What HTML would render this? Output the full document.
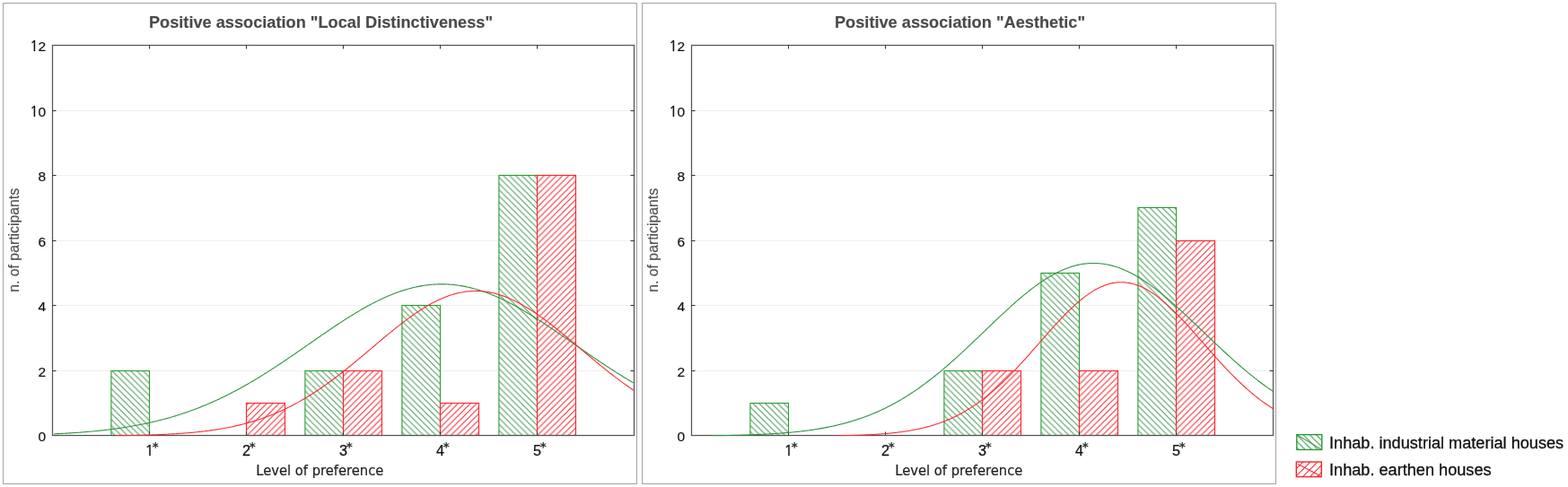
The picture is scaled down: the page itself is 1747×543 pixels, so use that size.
<!DOCTYPE html>
<html><head><meta charset="utf-8"><title>Positive association charts</title>
<style>html,body{margin:0;padding:0;background:#fff;} body{width:1747px;height:543px;position:relative;overflow:hidden;}</style>
</head><body>
<svg width="1747" height="543" viewBox="0 0 1747 543" style="position:absolute;left:0;top:0">
<defs>
<pattern id="hg1" patternUnits="userSpaceOnUse" width="6.88" height="6.88" patternTransform="translate(0.4,0)">
<path d="M-1,-1 L7.88,7.88 M-1,5.88 L1,7.88 M5.88,-1 L7.88,1" stroke="#4f9e5f" stroke-width="1.12" fill="none"/>
</pattern>
<pattern id="hr1" patternUnits="userSpaceOnUse" width="6.88" height="6.88" patternTransform="translate(3.99,0)">
<path d="M-1,7.88 L7.88,-1 M-1,1 L1,-1 M5.88,7.88 L7.88,5.88" stroke="#f5303c" stroke-width="1.12" fill="none"/>
</pattern>
<pattern id="hg2" patternUnits="userSpaceOnUse" width="6.88" height="6.88" patternTransform="translate(712.4,0)">
<path d="M-1,-1 L7.88,7.88 M-1,5.88 L1,7.88 M5.88,-1 L7.88,1" stroke="#4f9e5f" stroke-width="1.12" fill="none"/>
</pattern>
<pattern id="hr2" patternUnits="userSpaceOnUse" width="6.88" height="6.88" patternTransform="translate(715.99,0)">
<path d="M-1,7.88 L7.88,-1 M-1,1 L1,-1 M5.88,7.88 L7.88,5.88" stroke="#f5303c" stroke-width="1.12" fill="none"/>
</pattern>
<pattern id="lg" patternUnits="userSpaceOnUse" width="7.2" height="7.2" patternTransform="translate(1444.5,484.5)">
<path d="M-1,-1 L8.2,8.2 M-1,6.2 L1,8.2 M6.2,-1 L8.2,1" stroke="#4f9e5f" stroke-width="1.12" fill="none"/>
</pattern>
<pattern id="lr" patternUnits="userSpaceOnUse" width="8" height="8" patternTransform="translate(1444,515)">
<path d="M-1,9 L9,-1 M-1,1 L1,-1 M7,9 L9,7" stroke="#f5303c" stroke-width="1.12" fill="none"/>
</pattern>
</defs>
<rect width="1747" height="543" fill="#fff"/>
<rect x="3.5" y="3.5" width="706" height="536" fill="none" stroke="#a4a4a4" stroke-width="1"/>
<text x="357.5" y="30.6" text-anchor="middle" font-family="Liberation Sans, Arial, sans-serif" font-weight="bold" font-size="18.2" fill="#4a4a4a" stroke="#4a4a4a" stroke-width="0.15">Positive association &quot;Local Distinctiveness&quot;</text>
<line x1="58.5" y1="413.5" x2="706.5" y2="413.5" stroke="#efefef" stroke-width="1"/>
<line x1="58.5" y1="340.5" x2="706.5" y2="340.5" stroke="#efefef" stroke-width="1"/>
<line x1="58.5" y1="268.5" x2="706.5" y2="268.5" stroke="#efefef" stroke-width="1"/>
<line x1="58.5" y1="195.5" x2="706.5" y2="195.5" stroke="#efefef" stroke-width="1"/>
<line x1="58.5" y1="123.5" x2="706.5" y2="123.5" stroke="#efefef" stroke-width="1"/>
<text x="51.2" y="491.7" text-anchor="end" font-family="Liberation Sans, Arial, sans-serif" font-size="15.5" fill="#111" stroke="#111" stroke-width="0.2">0</text>
<text x="51.2" y="419.7" text-anchor="end" font-family="Liberation Sans, Arial, sans-serif" font-size="15.5" fill="#111" stroke="#111" stroke-width="0.2">2</text>
<text x="51.2" y="346.7" text-anchor="end" font-family="Liberation Sans, Arial, sans-serif" font-size="15.5" fill="#111" stroke="#111" stroke-width="0.2">4</text>
<text x="51.2" y="274.7" text-anchor="end" font-family="Liberation Sans, Arial, sans-serif" font-size="15.5" fill="#111" stroke="#111" stroke-width="0.2">6</text>
<text x="51.2" y="201.7" text-anchor="end" font-family="Liberation Sans, Arial, sans-serif" font-size="15.5" fill="#111" stroke="#111" stroke-width="0.2">8</text>
<text x="51.2" y="129.7" text-anchor="end" font-family="Liberation Sans, Arial, sans-serif" font-size="15.5" fill="#111" stroke="#111" stroke-width="0.2"><tspan font-family="NanumGothic, Liberation Sans, sans-serif" stroke="#111" stroke-width="0.45">1</tspan>0</text>
<text x="51.2" y="56.7" text-anchor="end" font-family="Liberation Sans, Arial, sans-serif" font-size="15.5" fill="#111" stroke="#111" stroke-width="0.2"><tspan font-family="NanumGothic, Liberation Sans, sans-serif" stroke="#111" stroke-width="0.45">1</tspan>2</text>
<text transform="translate(21,267.8) rotate(-90)" text-anchor="middle" font-family="Liberation Sans, Arial, sans-serif" font-size="15.8" fill="#505050" stroke="#505050" stroke-width="0.15">n. of participants</text>
<rect x="123.9" y="413.5" width="42.599999999999994" height="72.0" fill="#fff"/>
<rect x="123.9" y="413.5" width="42.599999999999994" height="72.0" fill="url(#hg1)" stroke="#2a9c32" stroke-width="1.1"/>
<rect x="274.5" y="449.5" width="43.0" height="36.0" fill="#fff"/>
<rect x="274.5" y="449.5" width="43.0" height="36.0" fill="url(#hr1)" stroke="#ff2228" stroke-width="1.1"/>
<rect x="339.9" y="413.5" width="42.60000000000002" height="72.0" fill="#fff"/>
<rect x="339.9" y="413.5" width="42.60000000000002" height="72.0" fill="url(#hg1)" stroke="#2a9c32" stroke-width="1.1"/>
<rect x="382.5" y="413.5" width="43.0" height="72.0" fill="#fff"/>
<rect x="382.5" y="413.5" width="43.0" height="72.0" fill="url(#hr1)" stroke="#ff2228" stroke-width="1.1"/>
<rect x="447.9" y="340.5" width="42.60000000000002" height="145.0" fill="#fff"/>
<rect x="447.9" y="340.5" width="42.60000000000002" height="145.0" fill="url(#hg1)" stroke="#2a9c32" stroke-width="1.1"/>
<rect x="490.5" y="449.5" width="43.0" height="36.0" fill="#fff"/>
<rect x="490.5" y="449.5" width="43.0" height="36.0" fill="url(#hr1)" stroke="#ff2228" stroke-width="1.1"/>
<rect x="555.9" y="195.5" width="42.60000000000002" height="290.0" fill="#fff"/>
<rect x="555.9" y="195.5" width="42.60000000000002" height="290.0" fill="url(#hg1)" stroke="#2a9c32" stroke-width="1.1"/>
<rect x="598.5" y="195.5" width="43.0" height="290.0" fill="#fff"/>
<rect x="598.5" y="195.5" width="43.0" height="290.0" fill="url(#hr1)" stroke="#ff2228" stroke-width="1.1"/>
<rect x="58.5" y="50.5" width="648.0" height="435.0" fill="none" stroke="#555555" stroke-width="1.25"/>
<line x1="166.5" y1="485.5" x2="166.5" y2="481.5" stroke="#333" stroke-width="1"/>
<line x1="166.5" y1="50.5" x2="166.5" y2="54.5" stroke="#333" stroke-width="1"/>
<line x1="274.5" y1="485.5" x2="274.5" y2="481.5" stroke="#333" stroke-width="1"/>
<line x1="274.5" y1="50.5" x2="274.5" y2="54.5" stroke="#333" stroke-width="1"/>
<line x1="382.5" y1="485.5" x2="382.5" y2="481.5" stroke="#333" stroke-width="1"/>
<line x1="382.5" y1="50.5" x2="382.5" y2="54.5" stroke="#333" stroke-width="1"/>
<line x1="490.5" y1="485.5" x2="490.5" y2="481.5" stroke="#333" stroke-width="1"/>
<line x1="490.5" y1="50.5" x2="490.5" y2="54.5" stroke="#333" stroke-width="1"/>
<line x1="598.5" y1="485.5" x2="598.5" y2="481.5" stroke="#333" stroke-width="1"/>
<line x1="598.5" y1="50.5" x2="598.5" y2="54.5" stroke="#333" stroke-width="1"/>
<line x1="58.5" y1="413.5" x2="62.5" y2="413.5" stroke="#333" stroke-width="1"/>
<line x1="706.5" y1="413.5" x2="702.5" y2="413.5" stroke="#333" stroke-width="1"/>
<line x1="58.5" y1="340.5" x2="62.5" y2="340.5" stroke="#333" stroke-width="1"/>
<line x1="706.5" y1="340.5" x2="702.5" y2="340.5" stroke="#333" stroke-width="1"/>
<line x1="58.5" y1="268.5" x2="62.5" y2="268.5" stroke="#333" stroke-width="1"/>
<line x1="706.5" y1="268.5" x2="702.5" y2="268.5" stroke="#333" stroke-width="1"/>
<line x1="58.5" y1="195.5" x2="62.5" y2="195.5" stroke="#333" stroke-width="1"/>
<line x1="706.5" y1="195.5" x2="702.5" y2="195.5" stroke="#333" stroke-width="1"/>
<line x1="58.5" y1="123.5" x2="62.5" y2="123.5" stroke="#333" stroke-width="1"/>
<line x1="706.5" y1="123.5" x2="702.5" y2="123.5" stroke="#333" stroke-width="1"/>
<clipPath id="cp0"><rect x="58.5" y="51" width="648.0" height="435.2"/></clipPath>
<g clip-path="url(#cp0)">
<polyline points="60.00,483.87 61.35,483.81 62.70,483.74 64.05,483.67 65.40,483.61 66.75,483.54 68.10,483.47 69.45,483.39 70.80,483.32 72.15,483.24 73.50,483.17 74.85,483.09 76.20,483.00 77.55,482.92 78.90,482.84 80.25,482.75 81.60,482.66 82.95,482.57 84.30,482.48 85.65,482.38 87.00,482.28 88.35,482.18 89.70,482.08 91.05,481.98 92.40,481.87 93.75,481.76 95.10,481.65 96.45,481.54 97.80,481.42 99.15,481.31 100.50,481.19 101.85,481.06 103.20,480.94 104.55,480.81 105.90,480.68 107.25,480.55 108.60,480.41 109.95,480.27 111.30,480.13 112.65,479.98 114.00,479.84 115.35,479.68 116.70,479.53 118.05,479.37 119.40,479.21 120.75,479.05 122.10,478.89 123.45,478.72 124.80,478.54 126.15,478.37 127.50,478.19 128.85,478.01 130.20,477.82 131.55,477.63 132.90,477.44 134.25,477.24 135.60,477.04 136.95,476.83 138.30,476.63 139.65,476.41 141.00,476.20 142.35,475.98 143.70,475.75 145.05,475.53 146.40,475.30 147.75,475.06 149.10,474.82 150.45,474.58 151.80,474.33 153.15,474.08 154.50,473.82 155.85,473.56 157.20,473.29 158.55,473.02 159.90,472.75 161.25,472.47 162.60,472.18 163.95,471.89 165.30,471.60 166.65,471.30 168.00,471.00 169.35,470.69 170.70,470.38 172.05,470.06 173.40,469.74 174.75,469.41 176.10,469.08 177.45,468.74 178.80,468.40 180.15,468.05 181.50,467.70 182.85,467.34 184.20,466.97 185.55,466.60 186.90,466.23 188.25,465.85 189.60,465.46 190.95,465.07 192.30,464.67 193.65,464.27 195.00,463.86 196.35,463.45 197.70,463.03 199.05,462.60 200.40,462.17 201.75,461.73 203.10,461.29 204.45,460.84 205.80,460.38 207.15,459.92 208.50,459.46 209.85,458.98 211.20,458.50 212.55,458.02 213.90,457.53 215.25,457.03 216.60,456.53 217.95,456.02 219.30,455.50 220.65,454.98 222.00,454.45 223.35,453.91 224.70,453.37 226.05,452.83 227.40,452.27 228.75,451.71 230.10,451.15 231.45,450.58 232.80,450.00 234.15,449.41 235.50,448.82 236.85,448.22 238.20,447.62 239.55,447.01 240.90,446.39 242.25,445.77 243.60,445.14 244.95,444.50 246.30,443.86 247.65,443.21 249.00,442.56 250.35,441.90 251.70,441.23 253.05,440.56 254.40,439.88 255.75,439.19 257.10,438.50 258.45,437.80 259.80,437.10 261.15,436.39 262.50,435.67 263.85,434.95 265.20,434.23 266.55,433.49 267.90,432.75 269.25,432.01 270.60,431.25 271.95,430.50 273.30,429.73 274.65,428.97 276.00,428.19 277.35,427.41 278.70,426.63 280.05,425.84 281.40,425.04 282.75,424.24 284.10,423.43 285.45,422.62 286.80,421.80 288.15,420.98 289.50,420.16 290.85,419.32 292.20,418.49 293.55,417.65 294.90,416.80 296.25,415.95 297.60,415.10 298.95,414.24 300.30,413.37 301.65,412.50 303.00,411.63 304.35,410.76 305.70,409.88 307.05,408.99 308.40,408.11 309.75,407.22 311.10,406.32 312.45,405.42 313.80,404.52 315.15,403.62 316.50,402.71 317.85,401.80 319.20,400.89 320.55,399.97 321.90,399.06 323.25,398.14 324.60,397.21 325.95,396.29 327.30,395.36 328.65,394.43 330.00,393.50 331.35,392.57 332.70,391.64 334.05,390.70 335.40,389.77 336.75,388.83 338.10,387.89 339.45,386.95 340.80,386.02 342.15,385.08 343.50,384.14 344.85,383.20 346.20,382.26 347.55,381.32 348.90,380.38 350.25,379.44 351.60,378.50 352.95,377.56 354.30,376.63 355.65,375.69 357.00,374.76 358.35,373.83 359.70,372.90 361.05,371.97 362.40,371.04 363.75,370.12 365.10,369.20 366.45,368.28 367.80,367.36 369.15,366.45 370.50,365.54 371.85,364.63 373.20,363.73 374.55,362.82 375.90,361.93 377.25,361.04 378.60,360.15 379.95,359.26 381.30,358.38 382.65,357.51 384.00,356.64 385.35,355.77 386.70,354.91 388.05,354.06 389.40,353.21 390.75,352.37 392.10,351.53 393.45,350.70 394.80,349.87 396.15,349.06 397.50,348.24 398.85,347.44 400.20,346.64 401.55,345.85 402.90,345.07 404.25,344.29 405.60,343.52 406.95,342.76 408.30,342.01 409.65,341.27 411.00,340.53 412.35,339.80 413.70,339.08 415.05,338.37 416.40,337.67 417.75,336.98 419.10,336.30 420.45,335.63 421.80,334.96 423.15,334.31 424.50,333.67 425.85,333.03 427.20,332.41 428.55,331.80 429.90,331.20 431.25,330.60 432.60,330.02 433.95,329.45 435.30,328.90 436.65,328.35 438.00,327.81 439.35,327.29 440.70,326.77 442.05,326.27 443.40,325.78 444.75,325.31 446.10,324.84 447.45,324.39 448.80,323.95 450.15,323.52 451.50,323.10 452.85,322.70 454.20,322.31 455.55,321.93 456.90,321.57 458.25,321.22 459.60,320.88 460.95,320.55 462.30,320.24 463.65,319.94 465.00,319.65 466.35,319.38 467.70,319.12 469.05,318.88 470.40,318.65 471.75,318.43 473.10,318.23 474.45,318.04 475.80,317.86 477.15,317.70 478.50,317.55 479.85,317.42 481.20,317.30 482.55,317.19 483.90,317.10 485.25,317.02 486.60,316.96 487.95,316.91 489.30,316.87 490.65,316.85 492.00,316.84 493.35,316.85 494.70,316.87 496.05,316.91 497.40,316.96 498.75,317.02 500.10,317.10 501.45,317.19 502.80,317.30 504.15,317.42 505.50,317.55 506.85,317.70 508.20,317.86 509.55,318.04 510.90,318.23 512.25,318.43 513.60,318.65 514.95,318.88 516.30,319.12 517.65,319.38 519.00,319.65 520.35,319.94 521.70,320.24 523.05,320.55 524.40,320.88 525.75,321.22 527.10,321.57 528.45,321.93 529.80,322.31 531.15,322.70 532.50,323.10 533.85,323.52 535.20,323.95 536.55,324.39 537.90,324.84 539.25,325.31 540.60,325.78 541.95,326.27 543.30,326.77 544.65,327.29 546.00,327.81 547.35,328.35 548.70,328.90 550.05,329.45 551.40,330.02 552.75,330.60 554.10,331.20 555.45,331.80 556.80,332.41 558.15,333.03 559.50,333.67 560.85,334.31 562.20,334.96 563.55,335.63 564.90,336.30 566.25,336.98 567.60,337.67 568.95,338.37 570.30,339.08 571.65,339.80 573.00,340.53 574.35,341.27 575.70,342.01 577.05,342.76 578.40,343.52 579.75,344.29 581.10,345.07 582.45,345.85 583.80,346.64 585.15,347.44 586.50,348.24 587.85,349.06 589.20,349.87 590.55,350.70 591.90,351.53 593.25,352.37 594.60,353.21 595.95,354.06 597.30,354.91 598.65,355.77 600.00,356.64 601.35,357.51 602.70,358.38 604.05,359.26 605.40,360.15 606.75,361.04 608.10,361.93 609.45,362.82 610.80,363.73 612.15,364.63 613.50,365.54 614.85,366.45 616.20,367.36 617.55,368.28 618.90,369.20 620.25,370.12 621.60,371.04 622.95,371.97 624.30,372.90 625.65,373.83 627.00,374.76 628.35,375.69 629.70,376.63 631.05,377.56 632.40,378.50 633.75,379.44 635.10,380.38 636.45,381.32 637.80,382.26 639.15,383.20 640.50,384.14 641.85,385.08 643.20,386.02 644.55,386.95 645.90,387.89 647.25,388.83 648.60,389.77 649.95,390.70 651.30,391.64 652.65,392.57 654.00,393.50 655.35,394.43 656.70,395.36 658.05,396.29 659.40,397.21 660.75,398.14 662.10,399.06 663.45,399.97 664.80,400.89 666.15,401.80 667.50,402.71 668.85,403.62 670.20,404.52 671.55,405.42 672.90,406.32 674.25,407.22 675.60,408.11 676.95,408.99 678.30,409.88 679.65,410.76 681.00,411.63 682.35,412.50 683.70,413.37 685.05,414.24 686.40,415.10 687.75,415.95 689.10,416.80 690.45,417.65 691.80,418.49 693.15,419.32 694.50,420.16 695.85,420.98 697.20,421.80 698.55,422.62 699.90,423.43 701.25,424.24 702.60,425.04 703.95,425.84 705.30,426.63 706.50,427.41 706.50,428.19" fill="none" stroke="#2e9440" stroke-width="1.1"/>
<polyline points="129.50,485.79 130.85,485.77 132.20,485.75 133.55,485.73 134.90,485.72 136.25,485.70 137.60,485.68 138.95,485.65 140.30,485.63 141.65,485.61 143.00,485.59 144.35,485.56 145.70,485.54 147.05,485.51 148.40,485.48 149.75,485.46 151.10,485.43 152.45,485.40 153.80,485.37 155.15,485.33 156.50,485.30 157.85,485.27 159.20,485.23 160.55,485.20 161.90,485.16 163.25,485.12 164.60,485.08 165.95,485.04 167.30,484.99 168.65,484.95 170.00,484.90 171.35,484.85 172.70,484.80 174.05,484.75 175.40,484.70 176.75,484.65 178.10,484.59 179.45,484.53 180.80,484.47 182.15,484.41 183.50,484.35 184.85,484.28 186.20,484.21 187.55,484.15 188.90,484.07 190.25,484.00 191.60,483.92 192.95,483.84 194.30,483.76 195.65,483.68 197.00,483.59 198.35,483.51 199.70,483.41 201.05,483.32 202.40,483.22 203.75,483.12 205.10,483.02 206.45,482.92 207.80,482.81 209.15,482.70 210.50,482.58 211.85,482.46 213.20,482.34 214.55,482.22 215.90,482.09 217.25,481.96 218.60,481.82 219.95,481.69 221.30,481.54 222.65,481.40 224.00,481.25 225.35,481.09 226.70,480.93 228.05,480.77 229.40,480.60 230.75,480.43 232.10,480.26 233.45,480.08 234.80,479.89 236.15,479.70 237.50,479.51 238.85,479.31 240.20,479.10 241.55,478.90 242.90,478.68 244.25,478.46 245.60,478.24 246.95,478.01 248.30,477.77 249.65,477.53 251.00,477.28 252.35,477.03 253.70,476.77 255.05,476.50 256.40,476.23 257.75,475.96 259.10,475.67 260.45,475.38 261.80,475.09 263.15,474.78 264.50,474.47 265.85,474.16 267.20,473.84 268.55,473.51 269.90,473.17 271.25,472.82 272.60,472.47 273.95,472.11 275.30,471.75 276.65,471.37 278.00,470.99 279.35,470.60 280.70,470.21 282.05,469.80 283.40,469.39 284.75,468.97 286.10,468.54 287.45,468.10 288.80,467.66 290.15,467.20 291.50,466.74 292.85,466.27 294.20,465.79 295.55,465.30 296.90,464.81 298.25,464.30 299.60,463.79 300.95,463.26 302.30,462.73 303.65,462.19 305.00,461.64 306.35,461.08 307.70,460.51 309.05,459.93 310.40,459.34 311.75,458.74 313.10,458.14 314.45,457.52 315.80,456.89 317.15,456.26 318.50,455.61 319.85,454.96 321.20,454.29 322.55,453.62 323.90,452.93 325.25,452.24 326.60,451.53 327.95,450.82 329.30,450.10 330.65,449.36 332.00,448.62 333.35,447.87 334.70,447.11 336.05,446.33 337.40,445.55 338.75,444.76 340.10,443.96 341.45,443.15 342.80,442.33 344.15,441.50 345.50,440.66 346.85,439.81 348.20,438.95 349.55,438.08 350.90,437.20 352.25,436.32 353.60,435.42 354.95,434.52 356.30,433.60 357.65,432.68 359.00,431.75 360.35,430.81 361.70,429.86 363.05,428.90 364.40,427.94 365.75,426.96 367.10,425.98 368.45,424.99 369.80,423.99 371.15,422.99 372.50,421.97 373.85,420.95 375.20,419.93 376.55,418.89 377.90,417.85 379.25,416.80 380.60,415.75 381.95,414.69 383.30,413.62 384.65,412.54 386.00,411.47 387.35,410.38 388.70,409.29 390.05,408.20 391.40,407.10 392.75,405.99 394.10,404.88 395.45,403.77 396.80,402.65 398.15,401.53 399.50,400.41 400.85,399.28 402.20,398.15 403.55,397.02 404.90,395.89 406.25,394.75 407.60,393.61 408.95,392.47 410.30,391.33 411.65,390.19 413.00,389.05 414.35,387.91 415.70,386.76 417.05,385.62 418.40,384.48 419.75,383.34 421.10,382.20 422.45,381.06 423.80,379.93 425.15,378.79 426.50,377.66 427.85,376.54 429.20,375.41 430.55,374.29 431.90,373.17 433.25,372.06 434.60,370.95 435.95,369.85 437.30,368.76 438.65,367.66 440.00,366.58 441.35,365.50 442.70,364.43 444.05,363.36 445.40,362.31 446.75,361.26 448.10,360.21 449.45,359.18 450.80,358.16 452.15,357.14 453.50,356.14 454.85,355.14 456.20,354.16 457.55,353.18 458.90,352.22 460.25,351.27 461.60,350.33 462.95,349.40 464.30,348.49 465.65,347.58 467.00,346.69 468.35,345.82 469.70,344.95 471.05,344.10 472.40,343.27 473.75,342.45 475.10,341.64 476.45,340.85 477.80,340.08 479.15,339.32 480.50,338.58 481.85,337.85 483.20,337.14 484.55,336.45 485.90,335.77 487.25,335.12 488.60,334.48 489.95,333.85 491.30,333.25 492.65,332.66 494.00,332.10 495.35,331.55 496.70,331.02 498.05,330.51 499.40,330.02 500.75,329.55 502.10,329.10 503.45,328.67 504.80,328.26 506.15,327.87 507.50,327.50 508.85,327.15 510.20,326.82 511.55,326.52 512.90,326.23 514.25,325.97 515.60,325.72 516.95,325.50 518.30,325.30 519.65,325.12 521.00,324.97 522.35,324.83 523.70,324.72 525.05,324.63 526.40,324.56 527.75,324.51 529.10,324.48 530.45,324.48 531.80,324.50 533.15,324.54 534.50,324.60 535.85,324.69 537.20,324.79 538.55,324.92 539.90,325.07 541.25,325.24 542.60,325.43 543.95,325.65 545.30,325.88 546.65,326.14 548.00,326.42 549.35,326.72 550.70,327.04 552.05,327.38 553.40,327.74 554.75,328.13 556.10,328.53 557.45,328.95 558.80,329.40 560.15,329.86 561.50,330.34 562.85,330.85 564.20,331.37 565.55,331.91 566.90,332.47 568.25,333.05 569.60,333.65 570.95,334.27 572.30,334.90 573.65,335.55 575.00,336.22 576.35,336.91 577.70,337.61 579.05,338.33 580.40,339.07 581.75,339.82 583.10,340.59 584.45,341.38 585.80,342.18 587.15,342.99 588.50,343.82 589.85,344.67 591.20,345.53 592.55,346.40 593.90,347.28 595.25,348.18 596.60,349.09 597.95,350.02 599.30,350.95 600.65,351.90 602.00,352.86 603.35,353.83 604.70,354.81 606.05,355.81 607.40,356.81 608.75,357.82 610.10,358.84 611.45,359.87 612.80,360.91 614.15,361.95 615.50,363.01 616.85,364.07 618.20,365.14 619.55,366.22 620.90,367.30 622.25,368.39 623.60,369.49 624.95,370.59 626.30,371.69 627.65,372.80 629.00,373.92 630.35,375.04 631.70,376.16 633.05,377.29 634.40,378.42 635.75,379.55 637.10,380.68 638.45,381.82 639.80,382.96 641.15,384.10 642.50,385.24 643.85,386.38 645.20,387.52 646.55,388.67 647.90,389.81 649.25,390.95 650.60,392.09 651.95,393.23 653.30,394.37 654.65,395.51 656.00,396.64 657.35,397.78 658.70,398.91 660.05,400.04 661.40,401.16 662.75,402.28 664.10,403.40 665.45,404.51 666.80,405.62 668.15,406.73 669.50,407.83 670.85,408.93 672.20,410.02 673.55,411.10 674.90,412.19 676.25,413.26 677.60,414.33 678.95,415.39 680.30,416.45 681.65,417.50 683.00,418.54 684.35,419.58 685.70,420.61 687.05,421.63 688.40,422.65 689.75,423.66 691.10,424.66 692.45,425.65 693.80,426.64 695.15,427.61 696.50,428.58 697.85,429.54 699.20,430.49 700.55,431.44 701.90,432.37 703.25,433.30 704.60,434.21 705.95,435.12 706.50,436.02 706.50,436.91 706.50,437.79" fill="none" stroke="#ff2a34" stroke-width="1.1"/>
</g>
<text x="166.5" y="508.2" text-anchor="middle" font-family="Liberation Sans, Arial, sans-serif" font-size="16.2" fill="#111" stroke="#111" stroke-width="0.25"><tspan font-family="NanumGothic, Liberation Sans, sans-serif" stroke="#111" stroke-width="0.45">1</tspan></text>
<text x="173.1" y="503.4" text-anchor="middle" font-family="DejaVu Sans, sans-serif" font-weight="bold" font-size="14.2" fill="#2a2a2a">*</text>
<text x="274.5" y="508.2" text-anchor="middle" font-family="Liberation Sans, Arial, sans-serif" font-size="16.2" fill="#111" stroke="#111" stroke-width="0.25">2</text>
<text x="281.1" y="503.4" text-anchor="middle" font-family="DejaVu Sans, sans-serif" font-weight="bold" font-size="14.2" fill="#2a2a2a">*</text>
<text x="382.5" y="508.2" text-anchor="middle" font-family="Liberation Sans, Arial, sans-serif" font-size="16.2" fill="#111" stroke="#111" stroke-width="0.25">3</text>
<text x="389.1" y="503.4" text-anchor="middle" font-family="DejaVu Sans, sans-serif" font-weight="bold" font-size="14.2" fill="#2a2a2a">*</text>
<text x="490.5" y="508.2" text-anchor="middle" font-family="Liberation Sans, Arial, sans-serif" font-size="16.2" fill="#111" stroke="#111" stroke-width="0.25">4</text>
<text x="497.1" y="503.4" text-anchor="middle" font-family="DejaVu Sans, sans-serif" font-weight="bold" font-size="14.2" fill="#2a2a2a">*</text>
<text x="598.5" y="508.2" text-anchor="middle" font-family="Liberation Sans, Arial, sans-serif" font-size="16.2" fill="#111" stroke="#111" stroke-width="0.25">5</text>
<text x="605.1" y="503.4" text-anchor="middle" font-family="DejaVu Sans, sans-serif" font-weight="bold" font-size="14.2" fill="#2a2a2a">*</text>
<text x="356.3" y="529.8" text-anchor="middle" font-family="DejaVu Sans Condensed, DejaVu Sans, sans-serif" font-size="16.4" fill="#222" stroke="#222" stroke-width="0.2">Level of preference</text>
<rect x="715.5" y="3.5" width="706" height="536" fill="none" stroke="#a4a4a4" stroke-width="1"/>
<text x="1069.5" y="30.6" text-anchor="middle" font-family="Liberation Sans, Arial, sans-serif" font-weight="bold" font-size="18.2" fill="#4a4a4a" stroke="#4a4a4a" stroke-width="0.15">Positive association &quot;Aesthetic&quot;</text>
<line x1="770.5" y1="413.5" x2="1418.5" y2="413.5" stroke="#efefef" stroke-width="1"/>
<line x1="770.5" y1="340.5" x2="1418.5" y2="340.5" stroke="#efefef" stroke-width="1"/>
<line x1="770.5" y1="268.5" x2="1418.5" y2="268.5" stroke="#efefef" stroke-width="1"/>
<line x1="770.5" y1="195.5" x2="1418.5" y2="195.5" stroke="#efefef" stroke-width="1"/>
<line x1="770.5" y1="123.5" x2="1418.5" y2="123.5" stroke="#efefef" stroke-width="1"/>
<text x="763.2" y="491.7" text-anchor="end" font-family="Liberation Sans, Arial, sans-serif" font-size="15.5" fill="#111" stroke="#111" stroke-width="0.2">0</text>
<text x="763.2" y="419.7" text-anchor="end" font-family="Liberation Sans, Arial, sans-serif" font-size="15.5" fill="#111" stroke="#111" stroke-width="0.2">2</text>
<text x="763.2" y="346.7" text-anchor="end" font-family="Liberation Sans, Arial, sans-serif" font-size="15.5" fill="#111" stroke="#111" stroke-width="0.2">4</text>
<text x="763.2" y="274.7" text-anchor="end" font-family="Liberation Sans, Arial, sans-serif" font-size="15.5" fill="#111" stroke="#111" stroke-width="0.2">6</text>
<text x="763.2" y="201.7" text-anchor="end" font-family="Liberation Sans, Arial, sans-serif" font-size="15.5" fill="#111" stroke="#111" stroke-width="0.2">8</text>
<text x="763.2" y="129.7" text-anchor="end" font-family="Liberation Sans, Arial, sans-serif" font-size="15.5" fill="#111" stroke="#111" stroke-width="0.2"><tspan font-family="NanumGothic, Liberation Sans, sans-serif" stroke="#111" stroke-width="0.45">1</tspan>0</text>
<text x="763.2" y="56.7" text-anchor="end" font-family="Liberation Sans, Arial, sans-serif" font-size="15.5" fill="#111" stroke="#111" stroke-width="0.2"><tspan font-family="NanumGothic, Liberation Sans, sans-serif" stroke="#111" stroke-width="0.45">1</tspan>2</text>
<text transform="translate(733,267.8) rotate(-90)" text-anchor="middle" font-family="Liberation Sans, Arial, sans-serif" font-size="15.8" fill="#505050" stroke="#505050" stroke-width="0.15">n. of participants</text>
<rect x="835.9" y="449.5" width="42.60000000000002" height="36.0" fill="#fff"/>
<rect x="835.9" y="449.5" width="42.60000000000002" height="36.0" fill="url(#hg2)" stroke="#2a9c32" stroke-width="1.1"/>
<rect x="1051.9" y="413.5" width="42.59999999999991" height="72.0" fill="#fff"/>
<rect x="1051.9" y="413.5" width="42.59999999999991" height="72.0" fill="url(#hg2)" stroke="#2a9c32" stroke-width="1.1"/>
<rect x="1094.5" y="413.5" width="43.0" height="72.0" fill="#fff"/>
<rect x="1094.5" y="413.5" width="43.0" height="72.0" fill="url(#hr2)" stroke="#ff2228" stroke-width="1.1"/>
<rect x="1159.9" y="304.5" width="42.59999999999991" height="181.0" fill="#fff"/>
<rect x="1159.9" y="304.5" width="42.59999999999991" height="181.0" fill="url(#hg2)" stroke="#2a9c32" stroke-width="1.1"/>
<rect x="1202.5" y="413.5" width="43.0" height="72.0" fill="#fff"/>
<rect x="1202.5" y="413.5" width="43.0" height="72.0" fill="url(#hr2)" stroke="#ff2228" stroke-width="1.1"/>
<rect x="1267.9" y="231.5" width="42.59999999999991" height="254.0" fill="#fff"/>
<rect x="1267.9" y="231.5" width="42.59999999999991" height="254.0" fill="url(#hg2)" stroke="#2a9c32" stroke-width="1.1"/>
<rect x="1310.5" y="268.5" width="43.0" height="217.0" fill="#fff"/>
<rect x="1310.5" y="268.5" width="43.0" height="217.0" fill="url(#hr2)" stroke="#ff2228" stroke-width="1.1"/>
<rect x="770.5" y="50.5" width="648.0" height="435.0" fill="none" stroke="#555555" stroke-width="1.25"/>
<line x1="878.5" y1="485.5" x2="878.5" y2="481.5" stroke="#333" stroke-width="1"/>
<line x1="878.5" y1="50.5" x2="878.5" y2="54.5" stroke="#333" stroke-width="1"/>
<line x1="986.5" y1="485.5" x2="986.5" y2="481.5" stroke="#333" stroke-width="1"/>
<line x1="986.5" y1="50.5" x2="986.5" y2="54.5" stroke="#333" stroke-width="1"/>
<line x1="1094.5" y1="485.5" x2="1094.5" y2="481.5" stroke="#333" stroke-width="1"/>
<line x1="1094.5" y1="50.5" x2="1094.5" y2="54.5" stroke="#333" stroke-width="1"/>
<line x1="1202.5" y1="485.5" x2="1202.5" y2="481.5" stroke="#333" stroke-width="1"/>
<line x1="1202.5" y1="50.5" x2="1202.5" y2="54.5" stroke="#333" stroke-width="1"/>
<line x1="1310.5" y1="485.5" x2="1310.5" y2="481.5" stroke="#333" stroke-width="1"/>
<line x1="1310.5" y1="50.5" x2="1310.5" y2="54.5" stroke="#333" stroke-width="1"/>
<line x1="770.5" y1="413.5" x2="774.5" y2="413.5" stroke="#333" stroke-width="1"/>
<line x1="1418.5" y1="413.5" x2="1414.5" y2="413.5" stroke="#333" stroke-width="1"/>
<line x1="770.5" y1="340.5" x2="774.5" y2="340.5" stroke="#333" stroke-width="1"/>
<line x1="1418.5" y1="340.5" x2="1414.5" y2="340.5" stroke="#333" stroke-width="1"/>
<line x1="770.5" y1="268.5" x2="774.5" y2="268.5" stroke="#333" stroke-width="1"/>
<line x1="1418.5" y1="268.5" x2="1414.5" y2="268.5" stroke="#333" stroke-width="1"/>
<line x1="770.5" y1="195.5" x2="774.5" y2="195.5" stroke="#333" stroke-width="1"/>
<line x1="1418.5" y1="195.5" x2="1414.5" y2="195.5" stroke="#333" stroke-width="1"/>
<line x1="770.5" y1="123.5" x2="774.5" y2="123.5" stroke="#333" stroke-width="1"/>
<line x1="1418.5" y1="123.5" x2="1414.5" y2="123.5" stroke="#333" stroke-width="1"/>
<clipPath id="cp712"><rect x="770.5" y="51" width="648.0" height="435.2"/></clipPath>
<g clip-path="url(#cp712)">
<polyline points="792.25,485.79 793.60,485.77 794.95,485.75 796.30,485.74 797.65,485.72 799.00,485.70 800.35,485.68 801.70,485.66 803.05,485.64 804.40,485.62 805.75,485.59 807.10,485.57 808.45,485.55 809.80,485.52 811.15,485.50 812.50,485.47 813.85,485.44 815.20,485.41 816.55,485.38 817.90,485.35 819.25,485.32 820.60,485.29 821.95,485.26 823.30,485.22 824.65,485.19 826.00,485.15 827.35,485.11 828.70,485.07 830.05,485.03 831.40,484.99 832.75,484.94 834.10,484.90 835.45,484.85 836.80,484.80 838.15,484.76 839.50,484.70 840.85,484.65 842.20,484.60 843.55,484.54 844.90,484.48 846.25,484.42 847.60,484.36 848.95,484.30 850.30,484.23 851.65,484.17 853.00,484.10 854.35,484.03 855.70,483.95 857.05,483.88 858.40,483.80 859.75,483.72 861.10,483.64 862.45,483.55 863.80,483.47 865.15,483.38 866.50,483.28 867.85,483.19 869.20,483.09 870.55,482.99 871.90,482.89 873.25,482.78 874.60,482.67 875.95,482.56 877.30,482.44 878.65,482.32 880.00,482.20 881.35,482.08 882.70,481.95 884.05,481.82 885.40,481.68 886.75,481.54 888.10,481.40 889.45,481.25 890.80,481.10 892.15,480.94 893.50,480.79 894.85,480.62 896.20,480.46 897.55,480.29 898.90,480.11 900.25,479.93 901.60,479.74 902.95,479.56 904.30,479.36 905.65,479.16 907.00,478.96 908.35,478.75 909.70,478.54 911.05,478.32 912.40,478.09 913.75,477.87 915.10,477.63 916.45,477.39 917.80,477.14 919.15,476.89 920.50,476.64 921.85,476.37 923.20,476.10 924.55,475.83 925.90,475.55 927.25,475.26 928.60,474.96 929.95,474.66 931.30,474.36 932.65,474.04 934.00,473.72 935.35,473.39 936.70,473.06 938.05,472.72 939.40,472.37 940.75,472.01 942.10,471.65 943.45,471.28 944.80,470.90 946.15,470.51 947.50,470.12 948.85,469.71 950.20,469.30 951.55,468.89 952.90,468.46 954.25,468.03 955.60,467.58 956.95,467.13 958.30,466.67 959.65,466.20 961.00,465.73 962.35,465.24 963.70,464.75 965.05,464.24 966.40,463.73 967.75,463.21 969.10,462.68 970.45,462.14 971.80,461.59 973.15,461.03 974.50,460.46 975.85,459.88 977.20,459.29 978.55,458.69 979.90,458.08 981.25,457.47 982.60,456.84 983.95,456.20 985.30,455.55 986.65,454.90 988.00,454.23 989.35,453.55 990.70,452.86 992.05,452.16 993.40,451.45 994.75,450.73 996.10,450.00 997.45,449.26 998.80,448.51 1000.15,447.75 1001.50,446.98 1002.85,446.20 1004.20,445.40 1005.55,444.60 1006.90,443.78 1008.25,442.96 1009.60,442.12 1010.95,441.28 1012.30,440.42 1013.65,439.55 1015.00,438.68 1016.35,437.79 1017.70,436.89 1019.05,435.98 1020.40,435.06 1021.75,434.13 1023.10,433.19 1024.45,432.24 1025.80,431.27 1027.15,430.30 1028.50,429.32 1029.85,428.33 1031.20,427.33 1032.55,426.31 1033.90,425.29 1035.25,424.26 1036.60,423.22 1037.95,422.17 1039.30,421.11 1040.65,420.04 1042.00,418.96 1043.35,417.87 1044.70,416.77 1046.05,415.67 1047.40,414.55 1048.75,413.43 1050.10,412.30 1051.45,411.15 1052.80,410.01 1054.15,408.85 1055.50,407.68 1056.85,406.51 1058.20,405.33 1059.55,404.14 1060.90,402.95 1062.25,401.75 1063.60,400.54 1064.95,399.32 1066.30,398.10 1067.65,396.88 1069.00,395.64 1070.35,394.40 1071.70,393.16 1073.05,391.91 1074.40,390.65 1075.75,389.40 1077.10,388.13 1078.45,386.86 1079.80,385.59 1081.15,384.31 1082.50,383.04 1083.85,381.75 1085.20,380.47 1086.55,379.18 1087.90,377.89 1089.25,376.60 1090.60,375.30 1091.95,374.01 1093.30,372.71 1094.65,371.41 1096.00,370.11 1097.35,368.81 1098.70,367.52 1100.05,366.22 1101.40,364.92 1102.75,363.63 1104.10,362.33 1105.45,361.04 1106.80,359.75 1108.15,358.46 1109.50,357.17 1110.85,355.89 1112.20,354.61 1113.55,353.34 1114.90,352.07 1116.25,350.80 1117.60,349.54 1118.95,348.28 1120.30,347.03 1121.65,345.79 1123.00,344.55 1124.35,343.32 1125.70,342.10 1127.05,340.88 1128.40,339.67 1129.75,338.47 1131.10,337.28 1132.45,336.09 1133.80,334.92 1135.15,333.75 1136.50,332.60 1137.85,331.46 1139.20,330.32 1140.55,329.20 1141.90,328.09 1143.25,326.99 1144.60,325.90 1145.95,324.83 1147.30,323.77 1148.65,322.72 1150.00,321.68 1151.35,320.66 1152.70,319.65 1154.05,318.66 1155.40,317.68 1156.75,316.72 1158.10,315.77 1159.45,314.84 1160.80,313.93 1162.15,313.03 1163.50,312.15 1164.85,311.28 1166.20,310.44 1167.55,309.61 1168.90,308.80 1170.25,308.00 1171.60,307.23 1172.95,306.47 1174.30,305.73 1175.65,305.02 1177.00,304.32 1178.35,303.64 1179.70,302.98 1181.05,302.35 1182.40,301.73 1183.75,301.13 1185.10,300.56 1186.45,300.00 1187.80,299.47 1189.15,298.96 1190.50,298.47 1191.85,298.00 1193.20,297.56 1194.55,297.13 1195.90,296.73 1197.25,296.35 1198.60,296.00 1199.95,295.66 1201.30,295.36 1202.65,295.07 1204.00,294.81 1205.35,294.56 1206.70,294.35 1208.05,294.15 1209.40,293.98 1210.75,293.84 1212.10,293.72 1213.45,293.62 1214.80,293.54 1216.15,293.49 1217.50,293.46 1218.85,293.46 1220.20,293.48 1221.55,293.52 1222.90,293.59 1224.25,293.68 1225.60,293.80 1226.95,293.93 1228.30,294.10 1229.65,294.28 1231.00,294.49 1232.35,294.72 1233.70,294.98 1235.05,295.26 1236.40,295.56 1237.75,295.88 1239.10,296.23 1240.45,296.60 1241.80,297.00 1243.15,297.41 1244.50,297.85 1245.85,298.31 1247.20,298.79 1248.55,299.30 1249.90,299.82 1251.25,300.37 1252.60,300.94 1253.95,301.53 1255.30,302.14 1256.65,302.77 1258.00,303.42 1259.35,304.09 1260.70,304.78 1262.05,305.49 1263.40,306.22 1264.75,306.97 1266.10,307.74 1267.45,308.53 1268.80,309.33 1270.15,310.16 1271.50,311.00 1272.85,311.86 1274.20,312.73 1275.55,313.63 1276.90,314.54 1278.25,315.46 1279.60,316.40 1280.95,317.36 1282.30,318.33 1283.65,319.32 1285.00,320.32 1286.35,321.34 1287.70,322.37 1289.05,323.41 1290.40,324.47 1291.75,325.54 1293.10,326.63 1294.45,327.72 1295.80,328.83 1297.15,329.95 1298.50,331.08 1299.85,332.22 1301.20,333.37 1302.55,334.53 1303.90,335.70 1305.25,336.88 1306.60,338.07 1307.95,339.27 1309.30,340.47 1310.65,341.69 1312.00,342.91 1313.35,344.14 1314.70,345.38 1316.05,346.62 1317.40,347.87 1318.75,349.12 1320.10,350.38 1321.45,351.64 1322.80,352.91 1324.15,354.19 1325.50,355.47 1326.85,356.75 1328.20,358.03 1329.55,359.32 1330.90,360.61 1332.25,361.90 1333.60,363.19 1334.95,364.49 1336.30,365.79 1337.65,367.08 1339.00,368.38 1340.35,369.68 1341.70,370.98 1343.05,372.28 1344.40,373.57 1345.75,374.87 1347.10,376.16 1348.45,377.46 1349.80,378.75 1351.15,380.04 1352.50,381.32 1353.85,382.61 1355.20,383.89 1356.55,385.17 1357.90,386.44 1359.25,387.71 1360.60,388.97 1361.95,390.24 1363.30,391.49 1364.65,392.74 1366.00,393.99 1367.35,395.23 1368.70,396.47 1370.05,397.69 1371.40,398.92 1372.75,400.14 1374.10,401.35 1375.45,402.55 1376.80,403.75 1378.15,404.94 1379.50,406.12 1380.85,407.29 1382.20,408.46 1383.55,409.62 1384.90,410.77 1386.25,411.92 1387.60,413.05 1388.95,414.18 1390.30,415.30 1391.65,416.41 1393.00,417.51 1394.35,418.60 1395.70,419.68 1397.05,420.75 1398.40,421.82 1399.75,422.87 1401.10,423.91 1402.45,424.95 1403.80,425.97 1405.15,426.99 1406.50,428.00 1407.85,428.99 1409.20,429.98 1410.55,430.95 1411.90,431.92 1413.25,432.87 1414.60,433.82 1415.95,434.75 1417.30,435.67 1418.50,436.59 1418.50,437.49" fill="none" stroke="#2e9440" stroke-width="1.1"/>
<polyline points="933.30,485.78 934.65,485.76 936.00,485.74 937.35,485.71 938.70,485.69 940.05,485.66 941.40,485.63 942.75,485.60 944.10,485.57 945.45,485.54 946.80,485.51 948.15,485.47 949.50,485.44 950.85,485.40 952.20,485.36 953.55,485.32 954.90,485.27 956.25,485.23 957.60,485.18 958.95,485.13 960.30,485.08 961.65,485.03 963.00,484.97 964.35,484.91 965.70,484.85 967.05,484.79 968.40,484.72 969.75,484.65 971.10,484.58 972.45,484.51 973.80,484.43 975.15,484.35 976.50,484.26 977.85,484.17 979.20,484.08 980.55,483.99 981.90,483.89 983.25,483.79 984.60,483.68 985.95,483.57 987.30,483.46 988.65,483.34 990.00,483.21 991.35,483.08 992.70,482.95 994.05,482.81 995.40,482.67 996.75,482.52 998.10,482.37 999.45,482.21 1000.80,482.04 1002.15,481.87 1003.50,481.69 1004.85,481.51 1006.20,481.32 1007.55,481.12 1008.90,480.92 1010.25,480.71 1011.60,480.49 1012.95,480.27 1014.30,480.04 1015.65,479.80 1017.00,479.55 1018.35,479.30 1019.70,479.03 1021.05,478.76 1022.40,478.48 1023.75,478.19 1025.10,477.89 1026.45,477.58 1027.80,477.27 1029.15,476.94 1030.50,476.60 1031.85,476.26 1033.20,475.90 1034.55,475.53 1035.90,475.16 1037.25,474.77 1038.60,474.37 1039.95,473.96 1041.30,473.53 1042.65,473.10 1044.00,472.65 1045.35,472.19 1046.70,471.72 1048.05,471.24 1049.40,470.74 1050.75,470.23 1052.10,469.71 1053.45,469.18 1054.80,468.63 1056.15,468.06 1057.50,467.49 1058.85,466.90 1060.20,466.29 1061.55,465.67 1062.90,465.04 1064.25,464.39 1065.60,463.72 1066.95,463.04 1068.30,462.35 1069.65,461.64 1071.00,460.91 1072.35,460.17 1073.70,459.41 1075.05,458.64 1076.40,457.85 1077.75,457.05 1079.10,456.23 1080.45,455.39 1081.80,454.53 1083.15,453.66 1084.50,452.77 1085.85,451.87 1087.20,450.95 1088.55,450.01 1089.90,449.06 1091.25,448.08 1092.60,447.10 1093.95,446.09 1095.30,445.07 1096.65,444.03 1098.00,442.97 1099.35,441.90 1100.70,440.81 1102.05,439.71 1103.40,438.59 1104.75,437.45 1106.10,436.29 1107.45,435.12 1108.80,433.94 1110.15,432.74 1111.50,431.52 1112.85,430.28 1114.20,429.04 1115.55,427.77 1116.90,426.49 1118.25,425.20 1119.60,423.89 1120.95,422.57 1122.30,421.24 1123.65,419.89 1125.00,418.53 1126.35,417.15 1127.70,415.77 1129.05,414.37 1130.40,412.96 1131.75,411.54 1133.10,410.10 1134.45,408.66 1135.80,407.21 1137.15,405.74 1138.50,404.27 1139.85,402.79 1141.20,401.30 1142.55,399.81 1143.90,398.31 1145.25,396.80 1146.60,395.28 1147.95,393.76 1149.30,392.23 1150.65,390.70 1152.00,389.17 1153.35,387.63 1154.70,386.10 1156.05,384.55 1157.40,383.01 1158.75,381.47 1160.10,379.93 1161.45,378.39 1162.80,376.85 1164.15,375.31 1165.50,373.78 1166.85,372.25 1168.20,370.73 1169.55,369.21 1170.90,367.69 1172.25,366.19 1173.60,364.69 1174.95,363.20 1176.30,361.71 1177.65,360.24 1179.00,358.78 1180.35,357.33 1181.70,355.89 1183.05,354.47 1184.40,353.06 1185.75,351.66 1187.10,350.28 1188.45,348.91 1189.80,347.56 1191.15,346.23 1192.50,344.92 1193.85,343.62 1195.20,342.35 1196.55,341.10 1197.90,339.86 1199.25,338.65 1200.60,337.46 1201.95,336.30 1203.30,335.16 1204.65,334.04 1206.00,332.95 1207.35,331.89 1208.70,330.85 1210.05,329.84 1211.40,328.86 1212.75,327.91 1214.10,326.98 1215.45,326.09 1216.80,325.22 1218.15,324.39 1219.50,323.59 1220.85,322.82 1222.20,322.08 1223.55,321.37 1224.90,320.70 1226.25,320.07 1227.60,319.46 1228.95,318.89 1230.30,318.36 1231.65,317.86 1233.00,317.40 1234.35,316.97 1235.70,316.58 1237.05,316.23 1238.40,315.91 1239.75,315.63 1241.10,315.38 1242.45,315.18 1243.80,315.01 1245.15,314.88 1246.50,314.78 1247.85,314.72 1249.20,314.71 1250.55,314.72 1251.90,314.78 1253.25,314.88 1254.60,315.01 1255.95,315.18 1257.30,315.38 1258.65,315.63 1260.00,315.91 1261.35,316.23 1262.70,316.58 1264.05,316.97 1265.40,317.40 1266.75,317.86 1268.10,318.36 1269.45,318.89 1270.80,319.46 1272.15,320.07 1273.50,320.70 1274.85,321.37 1276.20,322.08 1277.55,322.82 1278.90,323.59 1280.25,324.39 1281.60,325.22 1282.95,326.09 1284.30,326.98 1285.65,327.91 1287.00,328.86 1288.35,329.84 1289.70,330.85 1291.05,331.89 1292.40,332.95 1293.75,334.04 1295.10,335.16 1296.45,336.30 1297.80,337.46 1299.15,338.65 1300.50,339.86 1301.85,341.10 1303.20,342.35 1304.55,343.62 1305.90,344.92 1307.25,346.23 1308.60,347.56 1309.95,348.91 1311.30,350.28 1312.65,351.66 1314.00,353.06 1315.35,354.47 1316.70,355.89 1318.05,357.33 1319.40,358.78 1320.75,360.24 1322.10,361.71 1323.45,363.20 1324.80,364.69 1326.15,366.19 1327.50,367.69 1328.85,369.21 1330.20,370.73 1331.55,372.25 1332.90,373.78 1334.25,375.31 1335.60,376.85 1336.95,378.39 1338.30,379.93 1339.65,381.47 1341.00,383.01 1342.35,384.55 1343.70,386.10 1345.05,387.63 1346.40,389.17 1347.75,390.70 1349.10,392.23 1350.45,393.76 1351.80,395.28 1353.15,396.80 1354.50,398.31 1355.85,399.81 1357.20,401.30 1358.55,402.79 1359.90,404.27 1361.25,405.74 1362.60,407.21 1363.95,408.66 1365.30,410.10 1366.65,411.54 1368.00,412.96 1369.35,414.37 1370.70,415.77 1372.05,417.15 1373.40,418.53 1374.75,419.89 1376.10,421.24 1377.45,422.57 1378.80,423.89 1380.15,425.20 1381.50,426.49 1382.85,427.77 1384.20,429.04 1385.55,430.28 1386.90,431.52 1388.25,432.74 1389.60,433.94 1390.95,435.12 1392.30,436.29 1393.65,437.45 1395.00,438.59 1396.35,439.71 1397.70,440.81 1399.05,441.90 1400.40,442.97 1401.75,444.03 1403.10,445.07 1404.45,446.09 1405.80,447.10 1407.15,448.08 1408.50,449.06 1409.85,450.01 1411.20,450.95 1412.55,451.87 1413.90,452.77 1415.25,453.66 1416.60,454.53 1417.95,455.39 1418.50,456.23 1418.50,457.05 1418.50,457.85" fill="none" stroke="#ff2a34" stroke-width="1.1"/>
</g>
<text x="878.5" y="508.2" text-anchor="middle" font-family="Liberation Sans, Arial, sans-serif" font-size="16.2" fill="#111" stroke="#111" stroke-width="0.25"><tspan font-family="NanumGothic, Liberation Sans, sans-serif" stroke="#111" stroke-width="0.45">1</tspan></text>
<text x="885.1" y="503.4" text-anchor="middle" font-family="DejaVu Sans, sans-serif" font-weight="bold" font-size="14.2" fill="#2a2a2a">*</text>
<text x="986.5" y="508.2" text-anchor="middle" font-family="Liberation Sans, Arial, sans-serif" font-size="16.2" fill="#111" stroke="#111" stroke-width="0.25">2</text>
<text x="993.1" y="503.4" text-anchor="middle" font-family="DejaVu Sans, sans-serif" font-weight="bold" font-size="14.2" fill="#2a2a2a">*</text>
<text x="1094.5" y="508.2" text-anchor="middle" font-family="Liberation Sans, Arial, sans-serif" font-size="16.2" fill="#111" stroke="#111" stroke-width="0.25">3</text>
<text x="1101.1" y="503.4" text-anchor="middle" font-family="DejaVu Sans, sans-serif" font-weight="bold" font-size="14.2" fill="#2a2a2a">*</text>
<text x="1202.5" y="508.2" text-anchor="middle" font-family="Liberation Sans, Arial, sans-serif" font-size="16.2" fill="#111" stroke="#111" stroke-width="0.25">4</text>
<text x="1209.1" y="503.4" text-anchor="middle" font-family="DejaVu Sans, sans-serif" font-weight="bold" font-size="14.2" fill="#2a2a2a">*</text>
<text x="1310.5" y="508.2" text-anchor="middle" font-family="Liberation Sans, Arial, sans-serif" font-size="16.2" fill="#111" stroke="#111" stroke-width="0.25">5</text>
<text x="1317.1" y="503.4" text-anchor="middle" font-family="DejaVu Sans, sans-serif" font-weight="bold" font-size="14.2" fill="#2a2a2a">*</text>
<text x="1068.3" y="529.8" text-anchor="middle" font-family="DejaVu Sans Condensed, DejaVu Sans, sans-serif" font-size="16.4" fill="#222" stroke="#222" stroke-width="0.2">Level of preference</text>
<rect x="1444.8" y="484.6" width="28" height="16.8" fill="url(#lg)" stroke="#2a9c32" stroke-width="1.4"/>
<line x1="1444.8" y1="484.6" x2="1472.8" y2="501.4" stroke="#2e9440" stroke-width="1.1"/>
<rect x="1444.3" y="515" width="28" height="16.6" fill="url(#lr)" stroke="#ff2228" stroke-width="1.4"/>
<line x1="1446" y1="517.5" x2="1471" y2="530.5" stroke="#ff2a34" stroke-width="1.1"/>
<text x="1481" y="499.6" font-family="Liberation Sans, Arial, sans-serif" font-size="18.15" fill="#111" stroke="#111" stroke-width="0.3">Inhab. industrial material houses</text>
<text x="1481" y="529.6" font-family="Liberation Sans, Arial, sans-serif" font-size="18.15" fill="#111" stroke="#111" stroke-width="0.3">Inhab. earthen houses</text>
</svg>
</body></html>
